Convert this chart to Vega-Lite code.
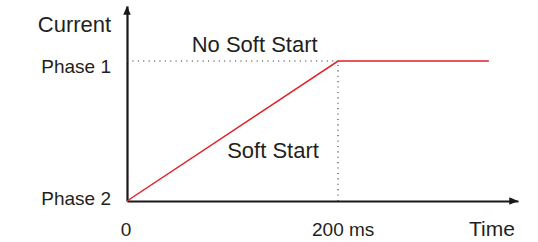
{
  "$schema": "https://vega.github.io/schema/vega-lite/v6.json",
  "width": 391,
  "height": 195,
  "autosize": "none",
  "padding": {"left": 127, "top": 6, "right": 20, "bottom": 41},
  "background": "white",
  "config": {
    "view": {"stroke": null},
    "font": "Liberation Sans",
    "text": {"font": "Liberation Sans", "color": "#231f20"}
  },
  "datasets": {
    "curve": [
      {"t": 0, "i": 0},
      {"t": 200, "i": 1},
      {"t": 343, "i": 1}
    ],
    "hguide": [
      {"t": 0, "i": 1},
      {"t": 200, "i": 1}
    ],
    "vguide": [
      {"t": 200, "i": 0},
      {"t": 200, "i": 1}
    ],
    "notes": [
      {"t": 121, "i": 1.064, "label": "No Soft Start"},
      {"t": 138.4, "i": 0.305, "label": "Soft Start"}
    ],
    "yarrow": [{"t": 0, "i": 1.3929}],
    "xarrow": [{"t": 370.6, "i": 0}]
  },
  "encoding": {
    "x": {
      "field": "t",
      "type": "quantitative",
      "scale": {"domain": [0, 370.6], "nice": false, "zero": false},
      "axis": {
        "values": [0, 200],
        "labelExpr": "datum.value == 0 ? '0' : '200 ms'",
        "grid": false,
        "ticks": false,
        "tickSize": 0,
        "domainColor": "#1a1718",
        "domainWidth": 2.2,
        "labelFont": "Liberation Sans",
        "labelFontSize": 19,
        "labelColor": "#231f20",
        "labelBaseline": "alphabetic",
        "labelPadding": 34.5,
        "labelOffset": {"condition": {"test": "datum.value == 0", "value": -1.4}, "value": 4.7},
        "labelFlush": false,
        "labelOverlap": false,
        "title": "Time",
        "titleFont": "Liberation Sans",
        "titleFontSize": 21,
        "titleFontWeight": "normal",
        "titleColor": "#231f20",
        "titleAlign": "center",
        "titleBaseline": "alphabetic",
        "titleAnchor": null,
        "titleX": 364.5,
        "titleY": 34.5
      }
    },
    "y": {
      "field": "i",
      "type": "quantitative",
      "scale": {"domain": [0, 1.3929], "nice": false, "zero": false},
      "axis": {
        "values": [0, 1],
        "labelExpr": "datum.value == 1 ? 'Phase 1' : 'Phase 2'",
        "grid": false,
        "ticks": false,
        "tickSize": 0,
        "domainColor": "#1a1718",
        "domainWidth": 2.2,
        "labelFont": "Liberation Sans",
        "labelFontSize": 19,
        "labelColor": "#231f20",
        "labelAlign": "right",
        "labelBaseline": "alphabetic",
        "labelPadding": 16.5,
        "labelOffset": {"condition": {"test": "datum.value == 1", "value": 11.7}, "value": 3.3},
        "labelFlush": false,
        "labelOverlap": false,
        "title": "Current",
        "titleFont": "Liberation Sans",
        "titleFontSize": 22,
        "titleFontWeight": "normal",
        "titleColor": "#231f20",
        "titleAngle": 0,
        "titleAlign": "right",
        "titleBaseline": "alphabetic",
        "titleAnchor": null,
        "titleX": -16.3,
        "titleY": 25
      }
    }
  },
  "layer": [
    {
      "data": {"name": "hguide"},
      "mark": {"type": "line", "color": "#333333", "strokeWidth": 1.1, "strokeDash": [1.1, 4.3], "clip": false},
      "encoding": {}
    },
    {
      "data": {"name": "vguide"},
      "mark": {"type": "line", "color": "#333333", "strokeWidth": 1.1, "strokeDash": [1.1, 4.3], "clip": false},
      "encoding": {}
    },
    {
      "data": {"name": "curve"},
      "mark": {"type": "line", "color": "#e31e24", "strokeWidth": 1.5, "clip": false},
      "encoding": {}
    },
    {
      "data": {"name": "notes"},
      "mark": {"type": "text", "fontSize": 22, "align": "center", "baseline": "alphabetic", "color": "#231f20"},
      "encoding": {"text": {"field": "label"}}
    },
    {
      "data": {"name": "yarrow"},
      "mark": {"type": "point", "shape": "M0,0L-0.75,1.75L0.75,1.75Z", "size": 100, "filled": true, "color": "#1a1718", "opacity": 1, "clip": false},
      "encoding": {}
    },
    {
      "data": {"name": "xarrow"},
      "mark": {"type": "point", "shape": "M0,0L-1.75,-0.75L-1.75,0.75Z", "size": 100, "filled": true, "color": "#1a1718", "opacity": 1, "clip": false},
      "encoding": {}
    }
  ]
}
